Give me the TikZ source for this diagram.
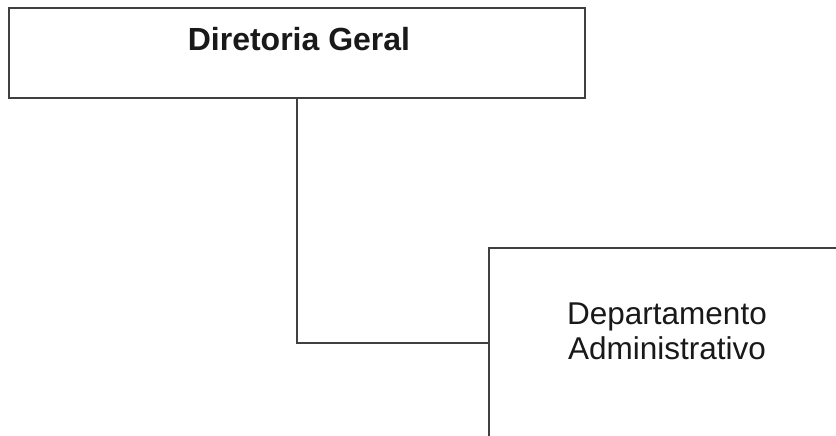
\documentclass[tikz,border=0pt]{standalone}
\usepackage{fontspec}
\setmainfont{Liberation Sans}
\tikzset{
  orgbox/.style={draw=black!75, line width=1.6pt, rectangle, inner sep=0pt},
  conn/.style={draw=black!75, line width=1.6pt},
  lbl/.style={font=\fontsize{31.5}{35}\selectfont, align=center, text=black!90, inner sep=0pt}
}
\begin{document}
\begin{tikzpicture}[x=1pt,y=-1pt]
\useasboundingbox (0,0) rectangle (836,436);
\clip (0,0) rectangle (836,436);
\fill[white] (0,0) rectangle (836,436);
\node[orgbox, minimum width=576pt, minimum height=90pt] (dg) at (297,53) {};
\node[lbl, font=\bfseries\fontsize{32}{35}\selectfont] (dgt) at (299,39) {Diretoria Geral};
\node[orgbox, minimum width=400pt, minimum height=190pt, anchor=north west] (da) at (488,247) {};
\node[lbl] (dat) at (667,331) {Departamento\\Administrativo};
\draw[conn] (dg.south) |- (da.west);
\end{tikzpicture}
\end{document}
